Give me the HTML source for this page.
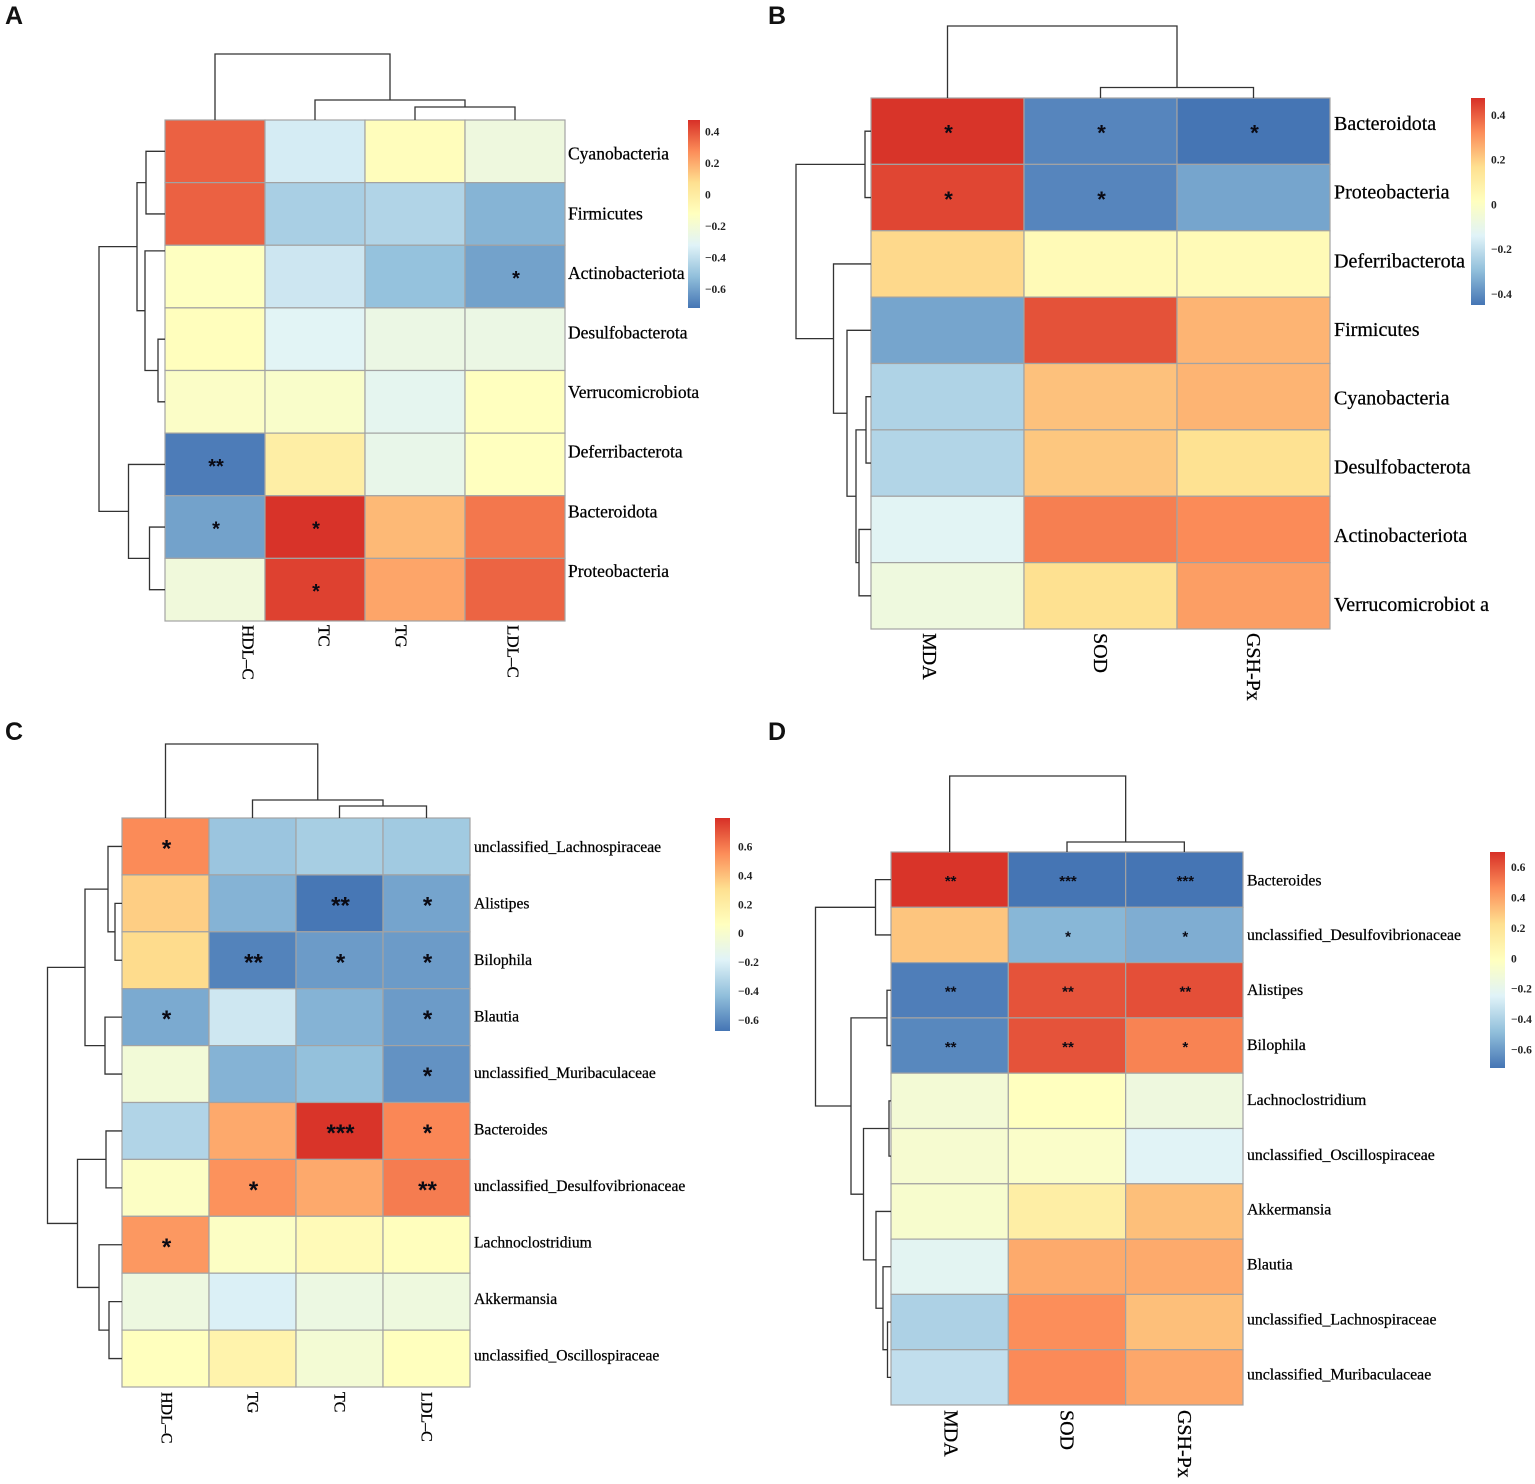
<!DOCTYPE html>
<html lang="en">
<head>
<meta charset="utf-8">
<title>Correlation heatmaps</title>
<style>
html,body{margin:0;padding:0;background:#fff;}
svg{display:block;}
</style>
</head>
<body>
<svg id="figure" xmlns="http://www.w3.org/2000/svg" width="1535" height="1484" viewBox="0 0 1535 1484"></svg>
<script>
// ---------- Panel A data ----------
const panelA_rows = ["Cyanobacteria","Firmicutes","Actinobacteriota","Desulfobacterota","Verrucomicrobiota","Deferribacterota","Bacteroidota","Proteobacteria"];
const panelA_cols = ["HDL–C","TC","TG","LDL–C"];
const panelA_values = [
  [0.37,-0.35,-0.11,-0.23],
  [0.37,-0.46,-0.44,-0.55],
  [-0.13,-0.37,-0.51,-0.60],
  [-0.115,-0.31,-0.25,-0.25],
  [-0.15,-0.16,-0.29,-0.12],
  [-0.70,-0.01,-0.27,-0.12],
  [-0.60,0.47,0.17,0.323],
  [-0.22,0.44,0.22,0.365]
];
const panelA_stars = [
  ["","","",""],["","","",""],["","","","*"],["","","",""],["","","",""],
  ["**","","",""],["*","*","",""],["","*","",""]
];
const panelA_range = [-0.72,0.476];
const panelA_ticks = [0.4,0.2,0,-0.2,-0.4,-0.6];
const panelA_colTree = [66,0,[20,1,[13,2,3]]];
const panelA_rowTree = [66,[28,[19,0,1],[20,1.59,[7,3,4]]],[36.5,5,[15.5,6,7]]];

// ---------- Panel B data ----------
const panelB_rows = ["Bacteroidota","Proteobacteria","Deferribacterota","Firmicutes","Cyanobacteria","Desulfobacterota","Actinobacteriota","Verrucomicrobiot a"];
const panelB_cols = ["MDA","SOD","GSH-Px"];
const panelB_values = [
  [0.47,-0.415,-0.449],
  [0.44,-0.415,-0.35],
  [0.18,0.04,0.04],
  [-0.35,0.42,0.25],
  [-0.237,0.225,0.25],
  [-0.23,0.215,0.16],
  [-0.13,0.345,0.325],
  [-0.07,0.165,0.29]
];
const panelB_stars = [
  ["*","*","*"],["*","*",""],["","",""],["","",""],["","",""],["","",""],["","",""],["","",""]
];
const panelB_range = [-0.449,0.476];
const panelB_ticks = [0.4,0.2,0,-0.2,-0.4];
const panelB_colTree = [72,0,[10.5,1,2]];
const panelB_rowTree = [75,[6,0,1],[37.5,2,[24,3,[15,[5,4,5],[12,6,7]]]]];

// ---------- Panel C data ----------
const panelC_rows = ["unclassified_Lachnospiraceae","Alistipes","Bilophila","Blautia","unclassified_Muribaculaceae","Bacteroides","unclassified_Desulfovibrionaceae","Lachnoclostridium","Akkermansia","unclassified_Oscillospiraceae"];
const panelC_cols = ["HDL–C","TG","TC","LDL–C"];
const panelC_values = [
  [0.56,-0.40,-0.36,-0.38],
  [0.36,-0.47,-0.67,-0.52],
  [0.32,-0.63,-0.55,-0.55],
  [-0.50,-0.24,-0.47,-0.55],
  [-0.04,-0.47,-0.42,-0.58],
  [-0.33,0.47,0.79,0.57],
  [0.04,0.54,0.47,0.60],
  [0.52,0.04,0.10,0.07],
  [-0.08,-0.20,-0.09,-0.07],
  [0.065,0.16,-0.03,0.065]
];
const panelC_stars = [
  ["*","","",""],["","","**","*"],["","**","*","*"],["*","","","*"],["","","","*"],
  ["","","***","*"],["","*","","**"],["*","","",""],["","","",""],["","","",""]
];
const panelC_range = [-0.676,0.80];
const panelC_ticks = [0.6,0.4,0.2,0,-0.2,-0.4,-0.6];
const panelC_colTree = [74,0,[18,1,[12,2,3]]];
const panelC_rowTree = [74.5,[37,[14,0,[7,1,2]],[17,3,4]],[44.5,[16,5,6],[23,7,[13,8,9]]]];

// ---------- Panel D data ----------
const panelD_rows = ["Bacteroides","unclassified_Desulfovibrionaceae","Alistipes","Bilophila","Lachnoclostridium","unclassified_Oscillospiraceae","Akkermansia","Blautia","unclassified_Lachnospiraceae","unclassified_Muribaculaceae"];
const panelD_cols = ["MDA","SOD","GSH-Px"];
const panelD_values = [
  [0.69,-0.72,-0.72],
  [0.305,-0.51,-0.54],
  [-0.69,0.61,0.62],
  [-0.66,0.61,0.49],
  [-0.10,-0.01,-0.14],
  [-0.08,-0.05,-0.24],
  [-0.07,0.12,0.32],
  [-0.22,0.38,0.38],
  [-0.40,0.46,0.32],
  [-0.34,0.47,0.39]
];
const panelD_stars = [
  ["**","***","***"],["","*","*"],["**","**","**"],["**","**","*"],["","",""],
  ["","",""],["","",""],["","",""],["","",""],["","",""]
];
const panelD_range = [-0.72,0.70];
const panelD_ticks = [0.6,0.4,0.2,0,-0.2,-0.4,-0.6];
const panelD_colTree = [76,0,[10,1,2]];
const panelD_rowTree = [75.5,[15.5,0,1],[40,[4,2,3],[27.5,[2,4,5],[15,6,[8,7,[3.5,8,9]]]]]];

// ---------- Colour palette (reversed RdYlBu) ----------
const paletteStops = ["#4575B4","#91BFDB","#E0F3F8","#FFFFBF","#FEE090","#FC8D59","#D73027"];

// ---------- Panel layouts ----------
const panels = [
  {id:"a",letter:"A",letterX:5,letterY:24,rows:panelA_rows,cols:panelA_cols,values:panelA_values,stars:panelA_stars,range:panelA_range,ticks:panelA_ticks,colTree:panelA_colTree,rowTree:panelA_rowTree,
   x0:165,x1:565,y0:120,y1:621,rowLabelX:568,rowLabelY0:155,rowLabelStep:59.6,rowFont:17.5,colFont:17,colLabelTop:625,colLabelShift:[33,9,-14,-2],starFont:20,
   barX0:688,barX1:700,barY0:120,barY1:308,tickX:705,tickFont:11.5},
  {id:"b",letter:"B",letterX:768,letterY:24,rows:panelB_rows,cols:panelB_cols,values:panelB_values,stars:panelB_stars,range:panelB_range,ticks:panelB_ticks,colTree:panelB_colTree,rowTree:panelB_rowTree,
   x0:871,x1:1330,y0:98,y1:629,rowLabelX:1334,rowLabelY0:124.5,rowLabelStep:68.7,rowFont:20,colFont:20,colLabelTop:633,colLabelShift:[-18,0,0],starFont:22,
   barX0:1471,barX1:1485,barY0:98,barY1:305,tickX:1491,tickFont:11.5},
  {id:"c",letter:"C",letterX:5,letterY:740,rows:panelC_rows,cols:panelC_cols,values:panelC_values,stars:panelC_stars,range:panelC_range,ticks:panelC_ticks,colTree:panelC_colTree,rowTree:panelC_rowTree,
   x0:122,x1:470,y0:818,y1:1387,rowLabelX:474,rowLabelY0:848,rowLabelStep:56.5,rowFont:15.6,colFont:16,colLabelTop:1392,colLabelShift:[1,0,0,0],starFont:24,
   barX0:715,barX1:730,barY0:818,barY1:1031,tickX:738,tickFont:11.5},
  {id:"d",letter:"D",letterX:768,letterY:740,rows:panelD_rows,cols:panelD_cols,values:panelD_values,stars:panelD_stars,range:panelD_range,ticks:panelD_ticks,colTree:panelD_colTree,rowTree:panelD_rowTree,
   x0:891,x1:1243,y0:852,y1:1405,rowLabelX:1247,rowLabelY0:881,rowLabelStep:54.9,rowFont:15.8,colFont:20,colLabelTop:1410,colLabelShift:[1,0,0],starFont:15,
   barX0:1490,barX1:1505,barY0:852,barY1:1068,tickX:1511,tickFont:11.5}
];

const NS = "http://www.w3.org/2000/svg";
const SERIF = '"Liberation Serif", serif';
const SANS = '"Liberation Sans", sans-serif';
const figure = document.getElementById("figure");

function hexToRgb(h){return [parseInt(h.slice(1,3),16),parseInt(h.slice(3,5),16),parseInt(h.slice(5,7),16)];}
function rampColor(t){
  const c = Math.max(0,Math.min(1,t))*(paletteStops.length-1);
  const i = Math.min(Math.floor(c),paletteStops.length-2);
  const f = c-i;
  const a = hexToRgb(paletteStops[i]), b = hexToRgb(paletteStops[i+1]);
  return "rgb("+a.map((v,k)=>Math.round(v+(b[k]-v)*f)).join(",")+")";
}
function make(tag,props,parent){
  const el = document.createElementNS(NS,tag);
  for(const k in props){el.setAttribute(k,props[k]);}
  parent.appendChild(el);
  return el;
}
function slug(s){return String(s).toLowerCase().replace(/[^a-z0-9]+/g,"-").replace(/^-|-$/g,"");}

function drawTree(node,leafPos,distPos,isCol,g,name){
  if(typeof node==="number"){return {pos:leafPos(node),edge:distPos(0)};}
  const left = drawTree(node[1],leafPos,distPos,isCol,g,name);
  const right = drawTree(node[2],leafPos,distPos,isCol,g,name);
  const e = distPos(node[0]);
  const d = isCol
    ? "M"+left.pos+" "+left.edge+"V"+e+"H"+right.pos+"V"+right.edge
    : "M"+left.edge+" "+left.pos+"H"+e+"V"+right.pos+"H"+right.edge;
  const path = make("path",{d:d,fill:"none",stroke:"#333333","stroke-width":1.3},g);
  
  
  return {pos:(left.pos+right.pos)/2,edge:e};
}

const defs = make("defs",{},figure);

panels.forEach(function(p){
  const group = make("g",{},figure);
  
  

  const letter = make("text",{x:p.letterX,y:p.letterY,"font-family":SANS,"font-weight":"bold","font-size":25,fill:"#111"},group);
  letter.textContent = p.letter;
  
  

  const nRows = p.rows.length, nCols = p.cols.length;
  const cw = (p.x1-p.x0)/nCols, rh = (p.y1-p.y0)/nRows;
  const xScale = function(c){return p.x0+cw*c;};
  const yScale = function(r){return p.y0+rh*r;};
  const valueT = function(v){return (v-p.range[0])/(p.range[1]-p.range[0]);};

  // cells
  const cells = make("g",{},group);
  
  
  p.values.forEach(function(row,r){
    row.forEach(function(v,c){
      const rect = make("rect",{x:xScale(c),y:yScale(r),width:cw,height:rh,fill:rampColor(valueT(v)),stroke:"#A3A3A3","stroke-width":1.2},cells);
      
      
      const s = p.stars[r][c];
      if(s){
        const star = make("text",{x:xScale(c)+cw/2+1,y:yScale(r)+rh/2+p.starFont*0.42,"text-anchor":"middle","font-family":SANS,"font-weight":"bold","font-size":p.starFont,fill:"#0a0a14"},cells);
        star.textContent = s;
        
        
      }
    });
  });

  // row labels
  p.rows.forEach(function(name,i){
    const cy = p.rowLabelY0+i*p.rowLabelStep;
    const t = make("text",{x:p.rowLabelX,y:cy+p.rowFont*0.27,"font-family":SERIF,"font-size":p.rowFont,fill:"#000",stroke:"#000","stroke-width":0.25},group);
    t.textContent = name;
    
    
  });

  // column labels
  p.cols.forEach(function(name,i){
    const cx = xScale(i)+cw/2+p.colLabelShift[i];
    const bx = cx-p.colFont*0.32;
    const t = make("text",{x:bx,y:p.colLabelTop,transform:"rotate(90 "+bx+" "+p.colLabelTop+")","font-family":SERIF,"font-size":p.colFont,fill:"#000",stroke:"#000","stroke-width":0.25},group);
    t.textContent = name;
    
    
  });

  // dendrograms
  const colG = make("g",{},group);
  
  
  drawTree(p.colTree,function(i){return xScale(i)+cw/2;},function(d){return p.y0-d;},true,colG,"column-dendrogram");

  const rowG = make("g",{},group);
  
  
  drawTree(p.rowTree,function(i){return yScale(i)+rh/2;},function(d){return p.x0-d;},false,rowG,"row-dendrogram");

  // colour bar
  const gradId = "ramp-"+p.id;
  const grad = make("linearGradient",{id:gradId,x1:0,y1:1,x2:0,y2:0},defs);
  paletteStops.forEach(function(col,i){
    make("stop",{offset:i/(paletteStops.length-1),"stop-color":col},grad);
  });
  const bar = make("rect",{x:p.barX0,y:p.barY0,width:p.barX1-p.barX0,height:p.barY1-p.barY0,fill:"url(#"+gradId+")"},group);
  
  
  p.ticks.forEach(function(v){
    const y = p.barY0+(p.range[1]-v)/(p.range[1]-p.range[0])*(p.barY1-p.barY0);
    const t = make("text",{x:p.tickX,y:y+p.tickFont*0.33,"font-family":SERIF,"font-weight":"bold","font-size":p.tickFont,fill:"#222"},group);
    t.textContent = v<0 ? "−"+Math.abs(v) : String(v);
    
    
  });
});
</script>
</body>
</html>
